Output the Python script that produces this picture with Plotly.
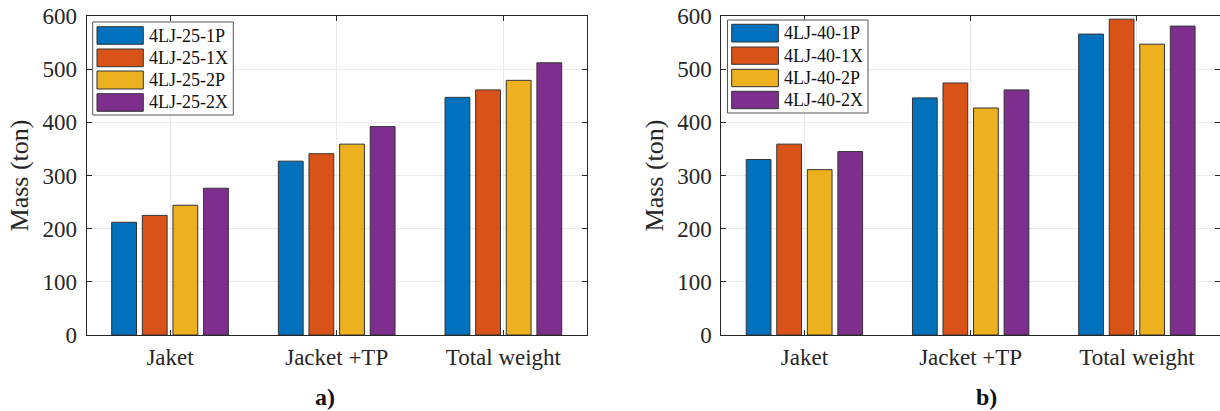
import plotly.graph_objects as go

# ---- data -------------------------------------------------------------
categories = ["Jaket", "Jacket +TP", "Total weight"]

names_25 = ["4LJ-25-1P", "4LJ-25-1X", "4LJ-25-2P", "4LJ-25-2X"]
lj25_1p = [212, 327, 447]
lj25_1x = [225, 341, 461]
lj25_2p = [244, 359, 479]
lj25_2x = [276, 392, 512]

names_40 = ["4LJ-40-1P", "4LJ-40-1X", "4LJ-40-2P", "4LJ-40-2X"]
lj40_1p = [330, 446, 566]
lj40_1x = [359, 474, 594]
lj40_2p = [311, 427, 547]
lj40_2x = [345, 461, 581]

y_ticks = [0, 100, 200, 300, 400, 500, 600]
panel_labels = ["a)", "b)"]

# ---- style ------------------------------------------------------------
colors = ["#0072BD", "#D95319", "#EDB120", "#7E2F8E"]
W, H = 1220, 411
FONT = "Liberation Serif"
INK = "#262626"


def fx(px):
    return px / W


def fy(py):
    return 1 - py / H


fig = go.Figure()

panels = [
    ("x", "y", names_25, [lj25_1p, lj25_1x, lj25_2p, lj25_2x]),
    ("x2", "y2", names_40, [lj40_1p, lj40_1x, lj40_2p, lj40_2x]),
]
for xa, ya, names, series in panels:
    for name, vals, col in zip(names, series, colors):
        fig.add_trace(go.Bar(
            x=categories, y=vals, name=name, xaxis=xa, yaxis=ya,
            marker=dict(color=col, line=dict(color="#333333", width=1)),
            showlegend=False,
        ))


def axis_style():
    return dict(
        showline=True, linecolor=INK, linewidth=1, mirror="ticks",
        ticks="inside", ticklen=5, tickcolor=INK, tickwidth=1,
        showgrid=True, gridcolor="#ebebeb", gridwidth=1, zeroline=False,
        automargin=False,
        tickfont=dict(family=FONT, size=23, color=INK),
    )


x_dom = [[fx(86.7), fx(586.7)], [fx(721.3), 1.0]]
y_dom = [fy(335), fy(16)]

layout_axes = {}
for i in range(2):
    sx = "" if i == 0 else "2"
    layout_axes["xaxis" + sx] = dict(
        axis_style(), domain=x_dom[i], anchor="y" + sx, type="category",
        range=[-0.5, 2.5], ticklabelstandoff=1)
    layout_axes["yaxis" + sx] = dict(
        axis_style(), domain=y_dom, anchor="x" + sx, range=[0, 600],
        autorange=False, tickvals=y_ticks, ticklabelstandoff=4,
        title=dict(text="Mass (ton)", standoff=6,
                   font=dict(family=FONT, size=26, color=INK)))

# ---- legends (wide swatches, boxed) -----------------------------------
legend_boxes = [
    dict(box=(92.7, 22, 233.3, 115), sw_x=(97, 143.3), text_x=147.3,
         rows=[(26.7, 44.3), (49, 66.7), (71, 89), (93.7, 111.3)], names=names_25),
    dict(box=(727.5, 20, 868, 113), sw_x=(731.7, 778.4), text_x=781.5,
         rows=[(24.3, 42), (47, 64.3), (69.3, 86.7), (91.3, 108.7)], names=names_40),
]
shapes = []
annotations = []
for lg in legend_boxes:
    x0, y0, x1, y1 = lg["box"]
    shapes.append(dict(type="rect", xref="paper", yref="paper",
                       x0=fx(x0), x1=fx(x1), y0=fy(y1), y1=fy(y0),
                       line=dict(color="#555555", width=1), fillcolor="white"))
    for (r0, r1), col, name in zip(lg["rows"], colors, lg["names"]):
        shapes.append(dict(type="rect", xref="paper", yref="paper",
                           x0=fx(lg["sw_x"][0]), x1=fx(lg["sw_x"][1]),
                           y0=fy(r1), y1=fy(r0),
                           line=dict(color="#333333", width=1), fillcolor=col))
        annotations.append(dict(xref="paper", yref="paper",
                                x=fx(lg["text_x"]), y=fy((r0 + r1) / 2),
                                xanchor="left", yanchor="middle", showarrow=False,
                                text=name, font=dict(family=FONT, size=18, color="#111111")))

# panel captions
for lab, cx in zip(panel_labels, [324.5, 986.5]):
    annotations.append(dict(xref="paper", yref="paper", x=fx(cx), y=fy(397),
                            xanchor="center", yanchor="middle", showarrow=False,
                            text="<b>" + lab + "</b>",
                            font=dict(family=FONT, size=24, color="#111111")))

fig.update_layout(
    width=W, height=H,
    margin=dict(l=0, r=0, t=0, b=0, pad=0, autoexpand=False),
    paper_bgcolor="white", plot_bgcolor="white",
    barmode="group", bargap=0.265, bargroupgap=0.19,
    showlegend=False, shapes=shapes, annotations=annotations,
    **layout_axes,
)

fig.write_html("out.html")
